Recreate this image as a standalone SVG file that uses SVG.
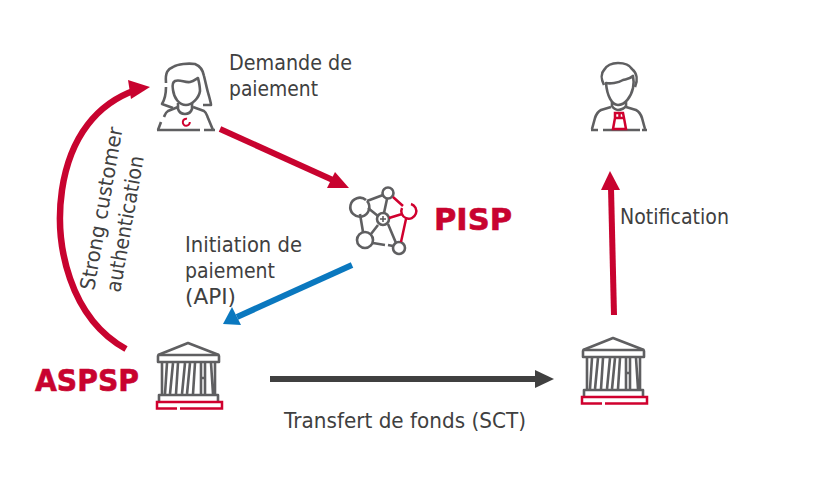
<svg xmlns="http://www.w3.org/2000/svg" width="821" height="501" viewBox="0 0 821 501">
<defs>
<style>
.g{fill:none;stroke:#5f5f61;stroke-width:2.600;stroke-linejoin:round}
.r{fill:none;stroke:#d0002e;stroke-width:2.500}
.t{font-family:"DejaVu Sans",sans-serif;font-size:20.500px;fill:#404040}
.b{font-family:"DejaVu Sans",sans-serif;font-weight:700;fill:#c8032f;stroke:#c8032f;stroke-width:.6}
</style>
<g id="bank">
<path class="g" d="M158 355 188 343 219 355"/>
<path class="g" d="M159 355H218Q219 355 219 356V362H158V356Q158 355 159 355Z"/>
<path class="g" d="M162 363V394M167 363 165 394M173 363 170 394M178 363 176 394M185 363 182 394M190 363 187 394M195 363 193 394M201 363V394M205 363V394M211 363 213 394M215 363V394M201 378H205"/>
<path class="g" d="M159 402V395H218V402"/>
<path class="r" d="M177 408.500H157V402H222V408.500H180"/>
</g>
</defs>
<rect width="821" height="501" fill="#fff"/>
<g id="connectors">
<path d="M126 349C70 318 54 245 62 190 70 136 98 103 136 90" fill="none" stroke="#c8032f" stroke-width="6.500"/>
<path d="M150 87 128 80 131 99Z" fill="#c8032f"/>
<path d="M220 129 335 181" fill="none" stroke="#c8032f" stroke-width="6"/>
<path d="M349 188 327 188 335 172Z" fill="#c8032f"/>
<path d="M352 265 237 317" fill="none" stroke="#0a78bf" stroke-width="6"/>
<path d="M223 324 232 307 241 325Z" fill="#0a78bf"/>
<path d="M270 379H537" fill="none" stroke="#404040" stroke-width="6"/>
<path d="M554 379 535 370V388Z" fill="#404040"/>
<path d="M614 315 611 188" fill="none" stroke="#c8032f" stroke-width="6"/>
<path d="M610 171 601 190H620Z" fill="#c8032f"/>
</g>
<g id="woman">
<path class="g" d="M166 83C165 72 168 69 173 67 178 64 188 63 195 64 200 66 203 70 204 76 206 84 207 90 209 96 210 100 211 103 211 105L203 105"/>
<path class="g" d="M166 87C166 93 165 99 162 104L173 108"/>
<path class="g" d="M173 90C172 85 173 82 175 81 180 79 185 83 190 82 194 81 196 79 198 78 199 82 200 86 200 91 199 98 192 105 186 105 179 105 174 98 173 90Z"/>
<path class="g" d="M178 103V109C179 112 182 114 185 114 188 114 191 112 192 109V103"/>
<path class="g" d="M178 107 168 111C165 113 165 115 164 117M161 122 158 130M193 107 204 111C207 113 207 116 208 118L213 130"/>
<path class="g" d="M157 130H200M204 130H215"/>
<path d="M187 118.800A3.500 3.500 0 1 0 189.800 122" fill="none" stroke="#d0002e" stroke-width="2"/>
</g>
<text class="t" x="229" y="70" textLength="123" lengthAdjust="spacingAndGlyphs">Demande de</text>
<text class="t" x="229" y="96" textLength="89" lengthAdjust="spacingAndGlyphs">paiement</text>
<g id="man">
<path class="g" d="M604 85C601 79 601 73 604 70 607 65 612 63 618 63 624 63 629 64 632 69 637 73 638 80 635 87"/>
<path class="g" d="M606 83C610 84 618 83 623 80 627 79 630 79 633 76 634 81 634 84 633 88 631 97 625 105 618 105 612 105 607 96 606 83Z"/>
<path class="g" d="M612 102V106C613 108 616 110 618 110 621 110 625 108 626 106V102"/>
<path class="g" d="M611 107 601 110C597 112 596 115 595 118L592 129M626 107 636 110C640 112 641 115 642 118L645 129"/>
<path class="g" d="M591 130H598M603 130H640M642 130H647"/>
<path class="r" d="M615 113H623L624 118 626 129H613L615 118ZM615 118H624M619.500 113V118" stroke-width="2"/>
</g>
<g id="pisp">
<g class="g">
<path d="M366 200A9.500 9.500 0 1 0 367 201"/>
<circle cx="388" cy="193" r="5.500"/><circle cx="383" cy="219" r="6"/><circle cx="365" cy="240" r="8"/><circle cx="399" cy="248" r="6"/>
<path d="M367 201 383 195M387 199 384 213M368 208 378 216M360 214 363 232M378 225 371 234M388 224 396 243M373 243 385 245M388 245 393 246"/>
</g>
<path class="r" d="M393 197 403 206M389 218 402 214M406 219 401 242M411 204A7.500 7.500 0 1 1 402 208"/>
<path d="M380 219H386M383 216V222" stroke="#58585a" stroke-width="1.500"/>
</g>
<text class="b" x="434" y="230" font-size="31" textLength="78" lengthAdjust="spacingAndGlyphs">PISP</text>
<g id="bank-left"><use href="#bank"/></g>
<g id="bank-right"><use href="#bank" x="425" y="-5"/></g>
<text class="b" x="35" y="391" font-size="31" textLength="104" lengthAdjust="spacingAndGlyphs">ASPSP</text>
<text class="t" x="185" y="252" textLength="117" lengthAdjust="spacingAndGlyphs">Initiation de</text>
<text class="t" x="185" y="278" textLength="90" lengthAdjust="spacingAndGlyphs">paiement</text>
<text class="t" x="185" y="304" textLength="51" lengthAdjust="spacingAndGlyphs">(API)</text>
<text class="t" x="620" y="224" textLength="109" lengthAdjust="spacingAndGlyphs">Notification</text>
<text class="t" x="284" y="428" textLength="242" lengthAdjust="spacingAndGlyphs">Transfert de fonds (SCT)</text>
<text class="t" transform="translate(94 291) rotate(-80)" textLength="165" lengthAdjust="spacingAndGlyphs">Strong customer</text>
<text class="t" transform="translate(120 293) rotate(-80)" textLength="138" lengthAdjust="spacingAndGlyphs">authentication</text>
</svg>
